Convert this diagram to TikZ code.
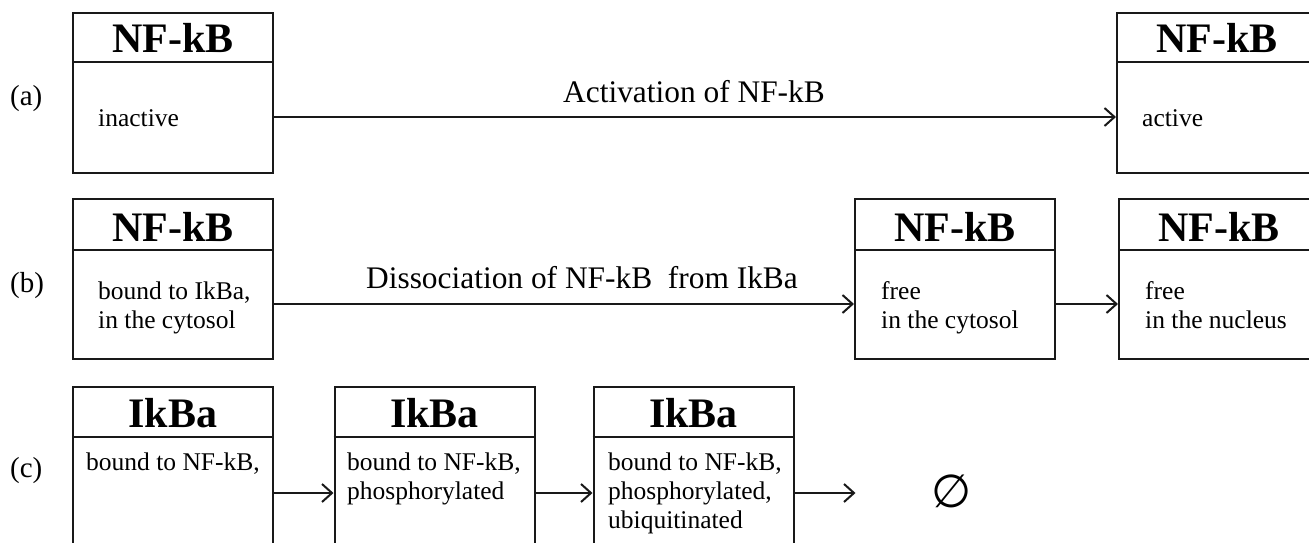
\documentclass[tikz,border=0pt]{standalone}
\usepackage{fontspec}
\setmainfont{Liberation Serif}
\newfontfamily\symfont{DejaVu Sans}
\usetikzlibrary{arrows.meta,calc}

\tikzset{
  panel/.style={draw=black!90, line width=2pt, minimum width=200pt,
                minimum height=160pt, inner sep=0pt},
  rule/.style={draw=black!90, line width=2pt},
  headtext/.style={font=\fontsize{42}{46}\selectfont\bfseries, anchor=base,
                   inner sep=0pt},
  bodytext/.style={font=\fontsize{25.5}{29}\selectfont, anchor=base west,
                   inner sep=0pt},
  steptext/.style={font=\fontsize{31.4}{36}\selectfont, anchor=base,
                   inner sep=0pt},
  rowtag/.style={font=\fontsize{29}{34}\selectfont, anchor=base west,
                 inner sep=0pt},
  flow/.style={draw=black!90, line width=2pt,
               -{Straight Barb[length=10pt,width=18pt,line width=2pt]}},
}

\begin{document}
\begin{tikzpicture}[x=1pt,y=-1pt]
\useasboundingbox (0,0) rectangle (1309,543);
\clip (0,0) rectangle (1309,543);

% ---------- row (a) ----------
\node[rowtag] (tagA) at (10,105) {(a)};
\node[panel] (a1) at (173,93) {};
\draw[rule] (a1.west |- 0,62) -- (a1.east |- 0,62);
\node[headtext] (a1h) at (173,53) {NF-kB};
\node[bodytext] (a1t) at (98,126) {inactive};

\node[panel] (a2) at (1217,93) {};
\draw[rule] (a2.west |- 0,62) -- (a2.east |- 0,62);
\node[headtext] (a2h) at (1217,53) {NF-kB};
\node[bodytext] (a2t) at (1142,126) {active};

\draw[flow] ($(a1.east)+(0,24)$) -- ($(a2.west)+(0,24)$);
\node[steptext] (actlbl) at (694,102) {Activation of NF-kB};

% ---------- row (b) ----------
\node[rowtag] (tagB) at (10,292) {(b)};
\node[panel] (b1) at (173,279) {};
\draw[rule] (b1.west |- 0,250) -- (b1.east |- 0,250);
\node[headtext] (b1h) at (173,241) {NF-kB};
\node[bodytext] (b1t) at (98,299) {\vtop{\hbox{bound to IkBa,}\hbox{in the cytosol}}};

\node[panel] (b2) at (955,279) {};
\draw[rule] (b2.west |- 0,250) -- (b2.east |- 0,250);
\node[headtext] (b2h) at (955,241) {NF-kB};
\node[bodytext] (b2t) at (881,299) {\vtop{\hbox{free}\hbox{in the cytosol}}};

\node[panel] (b3) at (1219,279) {};
\draw[rule] (b3.west |- 0,250) -- (b3.east |- 0,250);
\node[headtext] (b3h) at (1219,241) {NF-kB};
\node[bodytext] (b3t) at (1145,299) {\vtop{\hbox{free}\hbox{in the nucleus}}};

\draw[flow] ($(b1.east)+(0,25)$) -- ($(b2.west)+(0,25)$);
\draw[flow] ($(b2.east)+(0,25)$) -- ($(b3.west)+(0,25)$);
\node[steptext] (dislbl) at (582,288) {Dissociation of NF-kB\ \ from IkBa};

% ---------- row (c) ----------
\node[rowtag] (tagC) at (10,477) {(c)};
\node[panel] (c1) at (173,467) {};
\draw[rule] (c1.west |- 0,437) -- (c1.east |- 0,437);
\node[headtext] (c1h) at (173,427) {IkBa};
\node[bodytext] (c1t) at (86,470) {bound to NF-kB,};

\node[panel] (c2) at (434.5,467) {};
\draw[rule] (c2.west |- 0,437) -- (c2.east |- 0,437);
\node[headtext] (c2h) at (434.5,427) {IkBa};
\node[bodytext] (c2t) at (347,470) {\vtop{\hbox{bound to NF-kB,}\hbox{phosphorylated}}};

\node[panel] (c3) at (693.5,467) {};
\draw[rule] (c3.west |- 0,437) -- (c3.east |- 0,437);
\node[headtext] (c3h) at (693.5,427) {IkBa};
\node[bodytext] (c3t) at (608,470) {\vtop{\hbox{bound to NF-kB,}\hbox{phosphorylated,}\hbox{ubiquitinated}}};

% the empty set the last step leads to
\node[inner sep=0pt, font=\fontsize{46}{50}\selectfont\symfont] (nul) at (952,491) {∅};

\draw[flow] ($(c1.east)+(0,26)$) -- ($(c2.west)+(0,26)$);
\draw[flow] ($(c2.east)+(0,26)$) -- ($(c3.west)+(0,26)$);
\draw[flow] ($(c3.east)+(0,26)$) -- ($(c3.east)+(61,26)$);
\end{tikzpicture}
\end{document}
